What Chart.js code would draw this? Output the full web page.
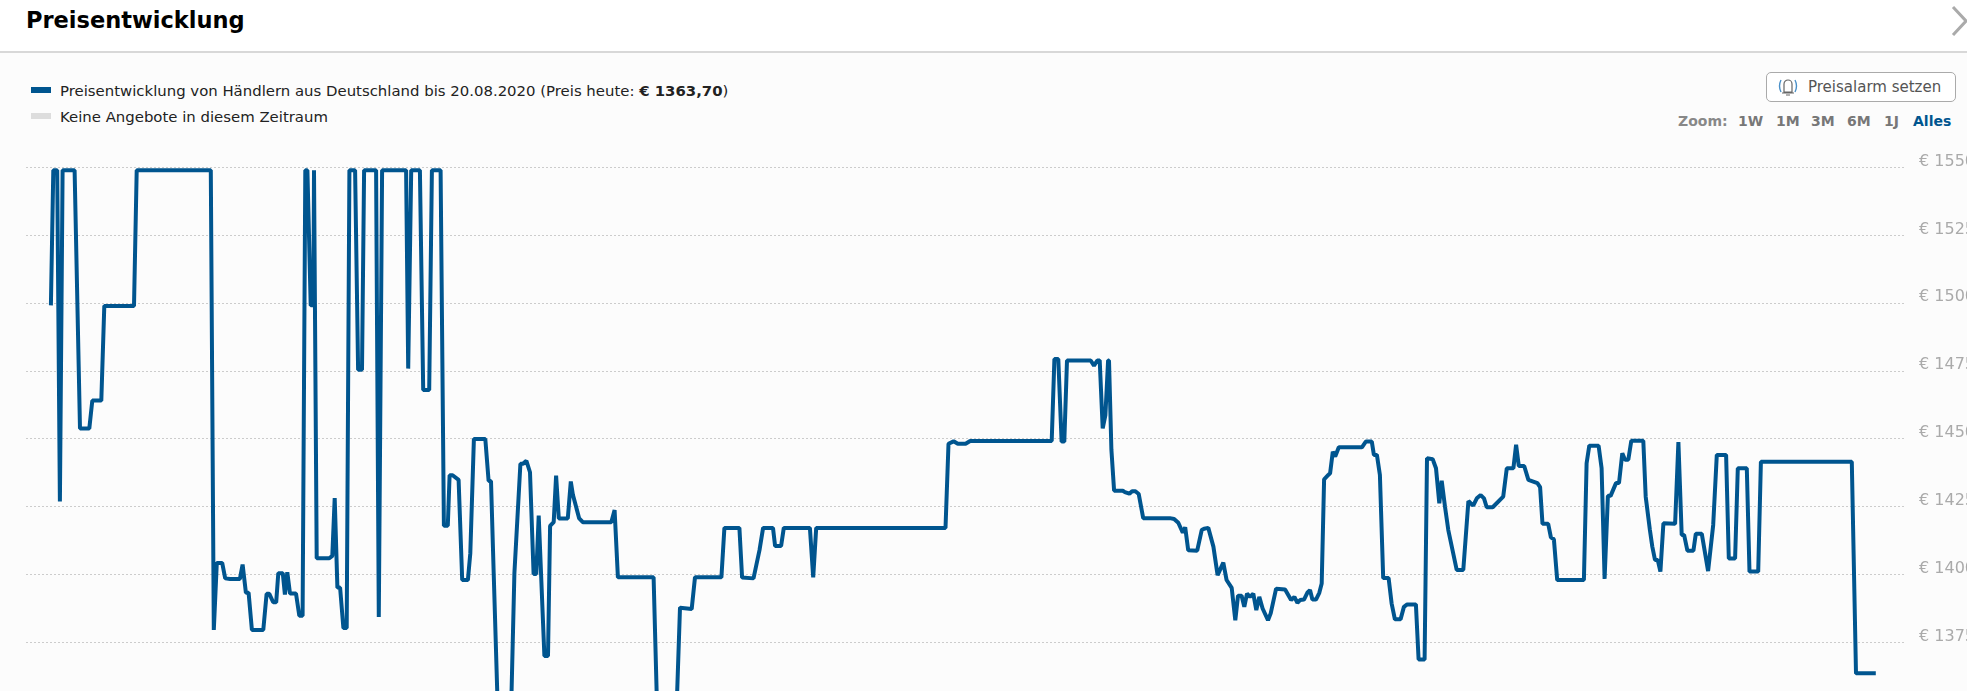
<!DOCTYPE html>
<html lang="de">
<head>
<meta charset="utf-8">
<title>Preisentwicklung</title>
<script src="https://cdn.jsdelivr.net/npm/chart.js@4"></script>
<style>
    html, body { margin: 0; padding: 0; background: #fff; overflow: hidden; }
    #page { position: relative; width: 1967px; height: 691px; overflow: hidden; font-family: "DejaVu Sans", sans-serif; background: #fcfcfc; }
    #page div, #page span { position: absolute; white-space: nowrap; }
    #head { left: 0; top: 0; width: 1967px; height: 51px; background: #fff; border-bottom: 2px solid #d8d8d8; }
    #title { left: 26px; top: 7px; font-size: 22.5px; font-weight: bold; color: #000; }
    .swatch { left: 31px; width: 20px; height: 6px; }
    .legtext { left: 60px; font-size: 14.9px; color: #222; }
    #alarm { left: 1766px; top: 72px; width: 188px; height: 28px; border: 1px solid #aaa; border-radius: 5px; background: #fff; }
    #alarm span { left: 41px; top: 5px; font-size: 15px; color: #555; }
    #alarm svg { position: absolute; left: 10px; top: 3px; }
    .zoom { top: 113px; font-size: 14px; font-weight: bold; color: #777; }
    #chartbox { position: absolute; left: 0; top: 0; width: 1967px; height: 691px; }
</style>
</head>
<body>
<div id="page">
    <div id="head"></div>
    <div id="title">Preisentwicklung</div>
    <svg id="close" style="position:absolute;left:1950px;top:2px" width="17" height="34"><path d="M3 5 L16 19 L3 33" fill="none" stroke="#aaa" stroke-width="3"/></svg>

    <div class="swatch" style="top:87px;background:#00558f"></div>
    <div class="legtext" style="top:82px">Preisentwicklung von Händlern aus Deutschland bis 20.08.2020 (Preis heute: <b>€ 1363,70</b>)</div>
    <div class="swatch" style="top:113px;background:#ddd"></div>
    <div class="legtext" style="top:108px">Keine Angebote in diesem Zeitraum</div>

    <div id="alarm">
        <svg width="22" height="22" viewBox="0 0 22 22">
            <path d="M7 16 V8 a4 4 0 0 1 8 0 V16 Z M5 17 H17 M9 19 H13" fill="none" stroke="#666" stroke-width="1.2"/>
            <path d="M4 4 Q1 10 4 16 M18 4 Q21 10 18 16" fill="none" stroke="#4a90c8" stroke-width="1.4"/>
        </svg>
        <span>Preisalarm setzen</span>
    </div>

    <span class="zoom" style="left:1678px;color:#888">Zoom:</span>
    <span class="zoom" style="left:1738px">1W</span>
    <span class="zoom" style="left:1776px">1M</span>
    <span class="zoom" style="left:1811px">3M</span>
    <span class="zoom" style="left:1847px">6M</span>
    <span class="zoom" style="left:1884px">1J</span>
    <span class="zoom" style="left:1913px;color:#00558f">Alles</span>

    <div id="chartbox"><canvas id="priceChart"></canvas></div>
</div>

<script>
// price readings, days counted from the first day on the axis
const priceDays = [
    8.3, 9.1, 10.4, 11.3, 12.2, 16.2, 18, 21.1, 22.1, 25.1, 26.1, 36, 36.9, 61.6, 62.6, 63.6, 65.4, 66.4, 68, 71.3,
    72.2, 73.3, 74.2, 75.3, 79.1, 80.2, 81.1, 82.4, 83.4, 84.1, 85.6, 86.3, 87.1, 88, 90, 91.1, 92.2, 93.1, 93.8, 94.9,
    95.8, 96, 96.9, 101.1, 102.1, 102.9, 103.8, 104.7, 105.8, 106.9, 107.8, 109.7, 110.7, 112, 112.7, 116.7, 117.6, 118.7, 126.7, 127.4,
    128.4, 131.3, 132.4, 134.4, 135.3, 138.2, 139.3, 140.6, 141.2, 142.2, 144.2, 145.4, 147.3, 148.1, 149.3, 153.1, 154.2, 155, 155.9, 157.4,
    161.6, 162.8, 164.8, 165.6, 166.8, 168, 169.2, 170.1, 170.9, 172.8, 174, 174.7, 175.9, 176.7, 177.6, 180.6, 181.6, 182.3, 183.5, 184.4,
    185.6, 195.1, 196.2, 197.3, 209.2, 210.5, 216.7, 218, 221.9, 223, 231.8, 232.8, 237.8, 238.7, 242.5, 244.5, 245.7, 249, 249.7, 251.7,
    252.6, 261.3, 262.4, 263.4, 306.5, 307.5, 309.2, 310.6, 313.2, 314.7, 341.9, 342.8, 344.1, 345.2, 346.1, 347, 354.9, 356, 357.1, 357.9,
    358.9, 359.8, 360.7, 361, 361.8, 362.7, 365.6, 366.3, 367.8, 368.7, 369.8, 370.9, 372.4, 381.3, 382.7, 384.1, 385.6, 386.4, 387.4, 390.4,
    391.9, 392.7, 394.1, 395.8, 397.2, 399.1, 400.2, 401.9, 403.1, 404, 405.2, 406.1, 407, 408, 409.1, 410.1, 411.1, 412.2, 414, 414.9,
    416.7, 419.7, 421.7, 422.8, 423.8, 424.7, 426, 427.1, 428, 428.8, 430, 431.1, 431.9, 432.7, 434.1, 434.7, 435.6, 436.4, 437.6, 445.3,
    446.6, 448.6, 449.3, 450.3, 451.3, 452.4, 454.2, 455.2, 456.3, 458.2, 459.3, 460.4, 463.3, 464.2, 466.2, 467, 468.9, 470, 471.1, 471.9,
    473, 474.1, 476.9, 479.1, 480.8, 482.4, 483.6, 484.9, 486, 486.9, 488.9, 492.4, 493.6, 495.8, 496.7, 497.6, 499.4, 500.8, 503.8, 504.7,
    505.5, 507.4, 508.3, 509.3, 510.4, 519.3, 520.2, 521.1, 524.2, 525.2, 526.2, 527.3, 528.2, 530, 531, 532.1, 533, 534.1, 535.1, 539.1,
    539.9, 541.3, 542.1, 543, 543.9, 544.8, 545.8, 549.7, 550.8, 551.9, 552.7, 553.8, 555.8, 556.6, 558.6, 560.7, 562.4, 563.6, 566.7, 567.6,
    569.7, 570.6, 573.6, 574.5, 577.4, 578.3, 608.6, 610, 616.6
];
const priceValues = [
    1499.2, 1549, 1549, 1426.9, 1549, 1549, 1453.8, 1453.8, 1464.1, 1464.1, 1499, 1499, 1549, 1549, 1379.6, 1404.3, 1404.3, 1398.6, 1398.4, 1398.4,
    1403.7, 1393.3, 1393.3, 1379.6, 1379.6, 1392.9, 1392.9, 1389.8, 1389.8, 1400.5, 1400.5, 1392.6, 1400.9, 1393, 1393, 1384.8, 1384.8, 1549, 1549, 1499.2,
    1499.2, 1549, 1406, 1406, 1406.9, 1428.2, 1395.2, 1395.2, 1380.3, 1380.3, 1549, 1549, 1475.5, 1475.5, 1549, 1549, 1384.4, 1549, 1549, 1475.9,
    1549, 1549, 1468, 1468, 1549, 1549, 1418, 1418, 1436.6, 1436.6, 1434.9, 1398, 1398, 1407.8, 1450, 1450, 1434.5, 1434.5, 1400.5, 1345,
    1345, 1400.5, 1440.8, 1440.8, 1441.9, 1437.7, 1400.2, 1400.2, 1421.7, 1370, 1370, 1417.9, 1419.3, 1436.5, 1420.7, 1420.7, 1434.3, 1429.4, 1424.4, 1420.7,
    1419.3, 1419.3, 1423.8, 1399, 1399, 1345, 1345, 1387.8, 1387.3, 1399, 1399, 1417.2, 1417.2, 1398.9, 1398.6, 1409, 1417.2, 1417.2, 1410.5, 1410.5,
    1417.2, 1417.2, 1399, 1417.2, 1417.2, 1448.2, 1449.1, 1448.2, 1448.2, 1449.2, 1449.2, 1479.4, 1479.4, 1449, 1449, 1478.9, 1478.9, 1477, 1478.9, 1478.9,
    1453.9, 1458.8, 1478.9, 1478.9, 1446, 1430.9, 1430.9, 1430.4, 1429.8, 1430.7, 1430.7, 1429.7, 1420.8, 1420.8, 1420.5, 1419.1, 1415.4, 1417.4, 1409, 1408.8,
    1416.4, 1416.9, 1417.2, 1410.3, 1399.8, 1404.4, 1398, 1395.1, 1383.2, 1392.2, 1392.2, 1388.1, 1393, 1391.8, 1393, 1386.9, 1391.8, 1387.5, 1383.2, 1385.7,
    1394.8, 1394.5, 1390.6, 1391.8, 1389.6, 1390.6, 1390.8, 1393.3, 1394.3, 1390.8, 1390.8, 1393.3, 1396.7, 1435.1, 1436.7, 1437.3, 1445.3, 1443.5, 1446.9, 1446.9,
    1449, 1449, 1444.1, 1444.1, 1436.7, 1398.7, 1398.7, 1389.4, 1383.5, 1383.5, 1388.1, 1389, 1389, 1368.7, 1368.7, 1442.9, 1442.5, 1439.2, 1426.3, 1434.6,
    1425, 1416.4, 1401.7, 1401.7, 1427.1, 1425.4, 1428.1, 1429.3, 1428.1, 1424.8, 1424.8, 1428.7, 1439.2, 1439.2, 1447.8, 1440, 1440, 1434.9, 1433.7, 1432.2,
    1418.7, 1418.7, 1413.7, 1413, 1398, 1398, 1441, 1447.5, 1447.5, 1439.2, 1398.4, 1429, 1429, 1433.7, 1433.7, 1444.7, 1442.3, 1442.3, 1449.3, 1449.3,
    1428.7, 1416.4, 1410.3, 1405.4, 1405.4, 1401.1, 1418.9, 1418.7, 1448.8, 1414.6, 1414.6, 1408.8, 1408.8, 1415, 1415, 1401.3, 1418.3, 1444.1, 1444.1, 1405.9,
    1405.9, 1439.2, 1439.2, 1401.1, 1401.1, 1441.6, 1441.6, 1363.6, 1363.6
];
const yTicks = [1550, 1525, 1500, 1475, 1450, 1425, 1400, 1375];

const ctx = document.getElementById('priceChart').getContext('2d');
const priceChart = new Chart(ctx, {
    type: 'line',
    data: {
        datasets: [{
            label: 'Preisentwicklung',
            data: priceDays.map((d, i) => ({ x: d, y: priceValues[i] })),
            borderColor: '#00558f',
            borderWidth: 4,
            borderJoinStyle: 'bevel',
            pointRadius: 0,
            tension: 0,
            fill: false
        }]
    },
    options: {
        responsive: true,
        maintainAspectRatio: false,
        animation: false,
        layout: { autoPadding: false, padding: { left: 26, top: 167.5, right: 0, bottom: 0 } },
        plugins: { legend: { display: false }, tooltip: { enabled: false } },
        scales: {
            x: { type: 'linear', display: false, min: 0, max: 626 },
            y: {
                position: 'right',
                min: 1357.1,
                max: 1550,
                afterBuildTicks: axis => { axis.ticks = yTicks.map(v => ({ value: v })); },
                afterFit: axis => { axis.width = 63; },
                border: { display: false, dash: [2, 2] },
                grid: { color: '#ccc', lineWidth: 1, drawTicks: true, tickLength: 15, tickColor: 'transparent' },
                ticks: {
                    color: '#aaa',
                    padding: 0,
                    align: 'end',
                    labelOffset: 2,
                    font: { family: '"DejaVu Sans"', size: 16 },
                    callback: v => '€ ' + v
                }
            }
        }
    }
});
</script>
</body>
</html>
